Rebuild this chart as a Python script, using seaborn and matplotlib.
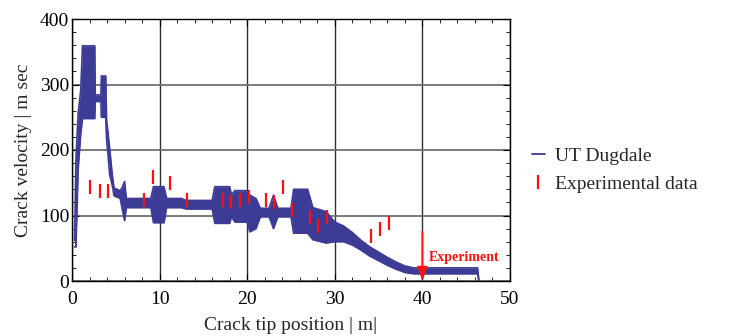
import numpy as np
import pandas as pd
import matplotlib
matplotlib.use("Agg")
import matplotlib.pyplot as plt
from matplotlib.lines import Line2D
import seaborn as sns

# ---- data ----
pos = [0.30, 0.45, 0.7, 1.0, 1.2, 2.6, 2.65, 3.3, 3.35, 3.85, 3.95, 4.1, 4.3, 4.6, 4.8,
       5.5, 5.7, 6.0, 6.2, 9.0, 9.3, 10.5, 10.8, 12.5, 13.0, 16.0, 16.3, 18.0, 18.2,
       18.6, 20.0, 20.3, 21.0, 21.5, 22.5, 23.0, 23.5, 25.0, 25.3, 26.9, 27.5, 29.0,
       30.0, 31.0, 32.0, 33.0, 34.0, 35.0, 36.0, 37.0, 38.0, 39.0, 46.3, 46.45]
vel_low = [52, 52, 170, 225, 248, 248, 274, 274, 250, 250, 215, 195, 162, 146, 130,
           126, 112, 92, 112, 112, 89, 89, 112, 112, 110, 110, 88, 88, 98,
           90, 90, 75, 80, 98, 98, 80, 98, 98, 73, 73, 63, 58,
           60, 60, 55, 47, 38, 31, 24, 18, 13, 11, 11, 0]
vel_high = [62, 185, 255, 292, 359, 359, 284, 284, 313, 313, 245, 228, 202, 162, 142,
            138, 142, 152, 126, 126, 144, 144, 126, 126, 123, 123, 144, 144, 132,
            138, 138, 131, 126, 111, 111, 131, 111, 111, 140, 140, 112, 106,
            90, 84, 74, 62, 52, 44, 36, 29, 23, 20, 20, 0]

exp_pos = [2.1, 3.2, 4.1, 8.2, 9.2, 11.2, 13.1, 17.2, 18.1, 19.2, 20.2, 22.1, 23.1,
           24.1, 25.1, 27.2, 28.1, 29.1, 34.1, 35.2, 36.2]
exp_vel = [144, 138, 138, 123, 159, 150, 123, 123, 120, 124, 129, 124, 120,
           144, 108, 98, 84, 98, 68, 79, 89]

arrow_x = 40
arrow_top = 75
x_ticks = [0, 10, 20, 30, 40, 50]
y_ticks = [0, 100, 200, 300, 400]

BLUE = "#3c3c97"
RED = "#ff1010"

sns.set_style("ticks")
plt.rcParams["font.family"] = ["Liberation Serif", "DejaVu Serif"]

fig = plt.figure(figsize=(7.33, 3.36), dpi=100)
ax = fig.add_axes([72 / 733, 1 - 281 / 336, (510 - 72) / 733, (281 - 19) / 336])

df = pd.DataFrame({"pos": pos, "low": vel_low, "high": vel_high})
ax.fill_between(df["pos"], df["low"], df["high"], color=BLUE, lw=0, zorder=3)
sns.lineplot(data=df, x="pos", y="low", ax=ax, color=BLUE, lw=1.2, sort=False,
             estimator=None, zorder=3)
sns.lineplot(data=df, x="pos", y="high", ax=ax, color=BLUE, lw=1.2, sort=False,
             estimator=None, zorder=3)

edf = pd.DataFrame({"pos": exp_pos, "vel": exp_vel})
sns.scatterplot(data=edf, x="pos", y="vel", ax=ax, marker="|", s=110, linewidth=1.6,
                color=RED, zorder=4)

ax.annotate("", xy=(arrow_x, 0), xytext=(arrow_x, arrow_top),
            arrowprops=dict(arrowstyle="-|>,head_length=0.7,head_width=0.25",
                            color=RED, lw=1.3, mutation_scale=12, shrinkA=0, shrinkB=0),
            zorder=5)
ax.text(arrow_x + 0.7, 36, "Experiment", color=RED, fontsize=10, fontweight="bold",
        va="center", ha="left", zorder=5)

ax.set_xlim(0, 50)
ax.set_ylim(0, 400)
ax.set_xticks(x_ticks)
ax.set_yticks(y_ticks)
ax.set_xticks(np.arange(0, 51, 2), minor=True)
ax.set_yticks(np.arange(0, 401, 20), minor=True)
ax.tick_params(which="both", direction="in", top=True, right=True, labelsize=14,
               colors="black")
ax.tick_params(axis="x", which="major", pad=7)
ax.tick_params(axis="y", which="major", pad=2)
ax.tick_params(which="major", length=5, width=0.8)
ax.tick_params(which="minor", length=3, width=0.6)
ax.xaxis.grid(True, which="major", color="#303030", lw=1.0)
ax.yaxis.grid(True, which="major", color="#707070", lw=1.3)
ax.set_axisbelow(True)
for s in ax.spines.values():
    s.set_color("black")
    s.set_linewidth(1.0)

ax.set_xlabel("Crack tip position | m|", fontsize=14, labelpad=7)
ax.set_ylabel("Crack velocity | m sec", fontsize=14, labelpad=6)

handles = [Line2D([], [], color=BLUE, lw=1.3),
           Line2D([], [], color=RED, marker="|", ls="none", ms=10, mew=1.6)]
fig.legend(handles, ["UT Dugdale", "Experimental data"], loc="center left",
           bbox_to_anchor=(514 / 733, 1 - 170 / 336), frameon=False, fontsize=14,
           handlelength=0.7, handletextpad=0.5, labelspacing=0.55)

fig.savefig("out.png", dpi=100)
